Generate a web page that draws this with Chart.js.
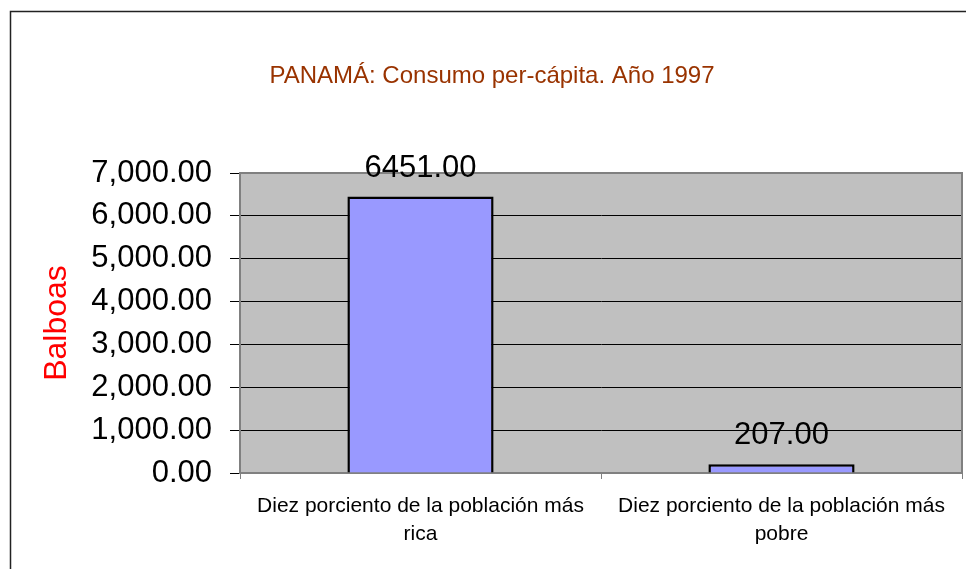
<!DOCTYPE html>
<html>
<head>
<meta charset="utf-8">
<script src="https://cdn.jsdelivr.net/npm/chart.js@4/dist/chart.umd.min.js"></script>
<style>
  html, body { margin: 0; padding: 0; background: #fff; }
  #wrap { width: 966px; height: 569px; position: relative; }
</style>
</head>
<body>
<div id="wrap"><canvas id="consumoChart"></canvas></div>
<script>
// datos del gráfico
const categorias = [
  ['Diez porciento de la población más', 'rica'],
  ['Diez porciento de la población más', 'pobre']
];
const consumo = [6451, 207];
const ejeMin = 0;
const ejeMax = 7000;
const ejePaso = 1000;

const fuente = '"Liberation Sans", Arial, sans-serif';

// fondo gris del área de trazado, borde y marco exterior
const fondoPlot = {
  id: 'fondoPlot',
  beforeDraw(chart) {
    const { ctx, chartArea: a } = chart;
    ctx.save();
    ctx.fillStyle = '#C0C0C0';
    ctx.fillRect(a.left, a.top, a.right - a.left, a.bottom - a.top);
    ctx.restore();
  },
  beforeDatasetsDraw(chart) {
    const { ctx, chartArea: a } = chart;
    ctx.save();
    ctx.strokeStyle = '#808080';
    ctx.lineWidth = 2;
    ctx.beginPath();
    ctx.moveTo(a.left, a.top);
    ctx.lineTo(a.right, a.top);
    ctx.lineTo(a.right, a.bottom);
    ctx.stroke();
    ctx.restore();
  },
  afterDraw(chart) {
    const ctx = chart.ctx;
    ctx.save();
    ctx.strokeStyle = '#222';
    ctx.lineWidth = 1.5;
    ctx.strokeRect(10.5, 11.5, chart.width + 20, chart.height + 20);
    ctx.restore();
  }
};

// etiquetas de valor encima de cada barra
const etiquetas = {
  id: 'etiquetas',
  afterDatasetsDraw(chart) {
    const ctx = chart.ctx;
    const meta = chart.getDatasetMeta(0);
    ctx.save();
    ctx.font = '31px ' + fuente;
    ctx.fillStyle = '#000';
    ctx.textAlign = 'center';
    ctx.textBaseline = 'alphabetic';
    meta.data.forEach((bar, i) => {
      ctx.fillText(consumo[i].toFixed(2), bar.x, bar.y - 20);
    });
    ctx.restore();
  }
};

new Chart(document.getElementById('consumoChart'), {
  type: 'bar',
  data: {
    labels: categorias,
    datasets: [{
      label: 'Balboas',
      data: consumo,
      backgroundColor: '#9999FF',
      borderColor: '#000000',
      borderWidth: 2.5,
      categoryPercentage: 1,
      barPercentage: 0.405
    }]
  },
  options: {
    responsive: true,
    maintainAspectRatio: false,
    animation: false,
    layout: { padding: { left: 22, right: 4, top: 0, bottom: 0 } },
    plugins: {
      legend: { display: false },
      tooltip: { enabled: false },
      title: {
        display: true,
        text: 'PANAMÁ: Consumo per-cápita. Año 1997',
        color: '#993300',
        font: { family: fuente, size: 24, weight: 'normal', lineHeight: 1.2 },
        padding: { top: 62, bottom: 82.2 }
      }
    },
    scales: {
      x: {
        afterFit(scale) { scale.height = 96; },
        grid: { drawOnChartArea: false, drawTicks: true, tickLength: 6, color: '#808080' },
        border: { color: '#808080', width: 2 },
        ticks: {
          padding: 13,
          color: '#000',
          maxRotation: 0,
          autoSkip: false,
          font: { family: fuente, size: 21, lineHeight: 1.33 }
        }
      },
      y: {
        min: ejeMin,
        max: ejeMax,
        afterFit(scale) { scale.width = 218; },
        grid: { color: '#000', lineWidth: 1, tickLength: 10 },
        border: { color: '#808080', width: 2 },
        ticks: {
          stepSize: ejePaso,
          padding: 18,
          color: '#000',
          font: { family: fuente, size: 31 },
          callback: v => v.toLocaleString('en-US', { minimumFractionDigits: 2, maximumFractionDigits: 2 })
        },
        title: {
          display: true,
          text: 'Balboas',
          color: '#FF0000',
          font: { family: fuente, size: 32, lineHeight: 1.2 },
          padding: { top: 16, bottom: 0 }
        }
      }
    }
  },
  plugins: [fondoPlot, etiquetas]
});
</script>
</body>
</html>
